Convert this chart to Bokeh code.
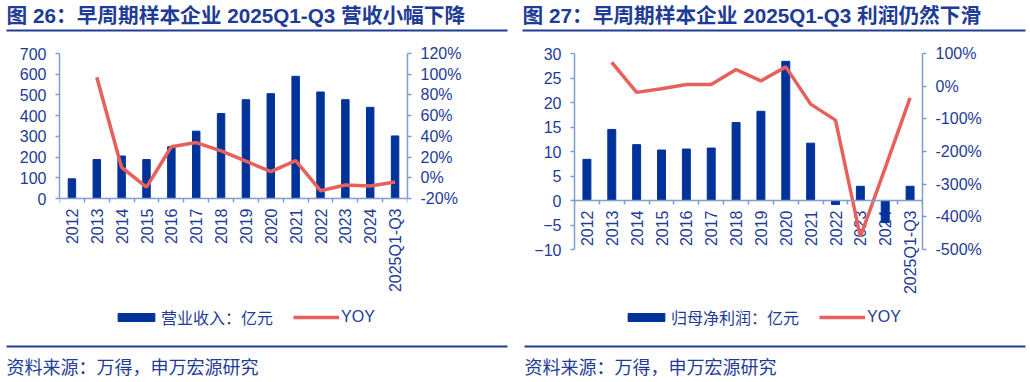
from math import pi
import numpy as np
from bokeh.plotting import figure
from bokeh.models import (Range1d, LinearAxis, FixedTicker, PrintfTickFormatter,
                          ColumnDataSource, LabelSet, Legend, LegendItem)
from bokeh.layouts import row, column
from bokeh.embed import file_html
from bokeh.resources import INLINE
from bokeh.core.properties import value

# ---------------- data ----------------
categories = ["2012", "2013", "2014", "2015", "2016", "2017", "2018", "2019",
              "2020", "2021", "2022", "2023", "2024", "2025Q1-Q3"]
revenue = [95, 188, 205, 188, 250, 325, 410, 477, 506, 590, 514, 477, 440, 302]
revenue_yoy = [None, 97, 10, -9, 30, 34, 26, 16, 6, 16.5, -12.5, -7, -8, -4]
profit = [8.4, 14.5, 11.4, 10.3, 10.5, 10.7, 15.9, 18.2, 28.4, 11.7, -0.8, 2.9, -4.5, 2.9]
profit_yoy = [None, 73, -19, -8, 5, 5, 51, 16, 59, -55, -104, -461, -250, -36]

rev_ticks = [0, 100, 200, 300, 400, 500, 600, 700]
rev_yoy_ticks = [-20, 0, 20, 40, 60, 80, 100, 120]
profit_ticks = [-10, -5, 0, 5, 10, 15, 20, 25, 30]
profit_yoy_ticks = [-500, -400, -300, -200, -100, 0, 100]

titles = ["图 26：早周期样本企业 2025Q1-Q3 营收小幅下降",
          "图 27：早周期样本企业 2025Q1-Q3 利润仍然下滑"]
bar_labels = ["营业收入：亿元", "归母净利润：亿元"]
line_label = "YOY"
source_text = "资料来源：万得，申万宏源研究"

# ---------------- style / layout ----------------
FONT = "Liberation Sans, Noto Sans CJK SC"
TEXT = "#1E3C96"
BAR = "#003399"
LINE = "#E8605C"
AXIS = "#7F9DCF"
W = 515
TITLE_H, CHART_H, FOOT_H = 35, 300, 47
TOP_BORDER = 18          # frame top = top tick
BORDER_L, BORDER_R = 59, 108

idx = list(range(len(categories)))
bounds = [i - 0.5 for i in range(len(categories) + 1)]


def nan_list(vals):
    return [np.nan if v is None else v for v in vals]


def ext_range(ticks, axis_px):
    """Range whose tick span covers axis_px pixels from the frame top and
    that continues down to the bottom of the frame."""
    frame_px = CHART_H - TOP_BORDER
    per_px = (ticks[-1] - ticks[0]) / axis_px
    return Range1d(ticks[-1] - frame_px * per_px, ticks[-1])


def deco_fig(h):
    p = figure(width=W, height=h, x_range=Range1d(0, W), y_range=Range1d(h, 0),
               output_backend="svg", toolbar_location=None, min_border=0,
               x_axis_location=None, y_axis_location=None)
    p.grid.grid_line_color = None
    p.outline_line_color = None
    return p


def title_fig(text, x0, x1):
    p = deco_fig(TITLE_H)
    p.text(x=[x0], y=[15], text=[text], text_font=value(FONT), text_font_size="20.7px",
           text_font_style="bold", text_color=TEXT, text_baseline="middle")
    p.segment(x0=[x0], y0=[30], x1=[x1], y1=[30], line_color=TEXT, line_width=2)
    return p


def footer_fig(x0, x1):
    p = deco_fig(FOOT_H)
    p.segment(x0=[x0], y0=[11], x1=[x1], y1=[11], line_color=TEXT, line_width=2)
    p.text(x=[x0], y=[32], text=[source_text], text_font=value(FONT), text_font_size="18px",
           text_color=TEXT, text_baseline="middle")
    return p


def style_y(ax, ticks):
    ax.bounds = (ticks[0], ticks[-1])
    ax.axis_line_color = AXIS
    ax.axis_line_width = 1.5
    ax.major_tick_line_color = AXIS
    ax.major_tick_line_width = 1.5
    ax.major_tick_in = 0
    ax.major_tick_out = 4
    ax.minor_tick_line_color = None
    ax.major_label_standoff = 9
    ax.major_label_text_font = FONT
    ax.major_label_text_font_size = "16px"
    ax.major_label_text_color = TEXT


def chart(values, yoy, ticks, yoy_ticks, axis_px, bar_label, legend_x, bar_w, label_level):
    p = figure(width=W, height=CHART_H, x_range=Range1d(-0.5, len(categories) - 0.5),
               y_range=ext_range(ticks, axis_px),
               output_backend="svg", toolbar_location=None,
               x_axis_location=None, y_axis_location=None,
               min_border_left=BORDER_L, min_border_right=BORDER_R,
               min_border_top=TOP_BORDER, min_border_bottom=0)
    p.extra_y_ranges = {"yoy": ext_range(yoy_ticks, axis_px)}
    p.grid.grid_line_color = None
    p.outline_line_color = None
    p.background_fill_color = "white"

    ay = LinearAxis(ticker=FixedTicker(ticks=ticks))
    style_y(ay, ticks)
    p.add_layout(ay, "left")
    ay2 = LinearAxis(y_range_name="yoy", ticker=FixedTicker(ticks=yoy_ticks),
                     formatter=PrintfTickFormatter(format="%d%%"))
    style_y(ay2, yoy_ticks)
    p.add_layout(ay2, "right")

    # category axis drawn at value 0, ticks at category boundaries
    ax = LinearAxis(ticker=FixedTicker(ticks=[], minor_ticks=bounds), fixed_location=0)
    ax.axis_line_color = AXIS
    ax.axis_line_width = 1.5
    ax.major_tick_line_color = None
    ax.major_tick_in = 0
    ax.major_tick_out = 0
    ax.minor_tick_line_color = AXIS
    ax.minor_tick_line_width = 1.5
    ax.minor_tick_in = 4
    ax.minor_tick_out = 0
    ax.major_label_standoff = 0
    p.add_layout(ax, "above")

    src = ColumnDataSource(dict(x=idx, y=[0] * len(idx), label=categories))
    p.add_layout(LabelSet(x="x", y="y", text="label", source=src, angle=pi / 2,
                          text_align="right", text_baseline="middle", y_offset=-10,
                          text_font=value(FONT), text_font_size="16px", text_color=TEXT,
                          level=label_level))

    bars = p.vbar(x=idx, top=values, width=bar_w, color=BAR)
    ln = p.line(x=idx, y=nan_list(yoy), y_range_name="yoy", line_color=LINE, line_width=3.5)

    lg = Legend(items=[LegendItem(label=bar_label, renderers=[bars]),
                       LegendItem(label=line_label, renderers=[ln])],
                orientation="horizontal", location=(legend_x, 6),
                label_text_font=FONT, label_text_font_size="16px", label_text_color=TEXT,
                glyph_width=46, glyph_height=10, label_height=20, label_standoff=2,
                spacing=20, padding=0, margin=0, border_line_color=None,
                background_fill_alpha=0)
    p.add_layout(lg)
    return p


pL = chart(revenue, revenue_yoy, rev_ticks, rev_yoy_ticks, 145, bar_labels[0], 54,
           0.3, "annotation")
pR = chart(profit, profit_yoy, profit_ticks, profit_yoy_ticks, 196, bar_labels[1], 49,
           0.32, "underlay")

layout = column(
    row(title_fig(titles[0], 6, 507), title_fig(titles[1], 7, 510)),
    row(pL, pR),
    row(footer_fig(6, 507), footer_fig(9, 510)),
)

open("out.html", "w").write(file_html(layout, INLINE))
